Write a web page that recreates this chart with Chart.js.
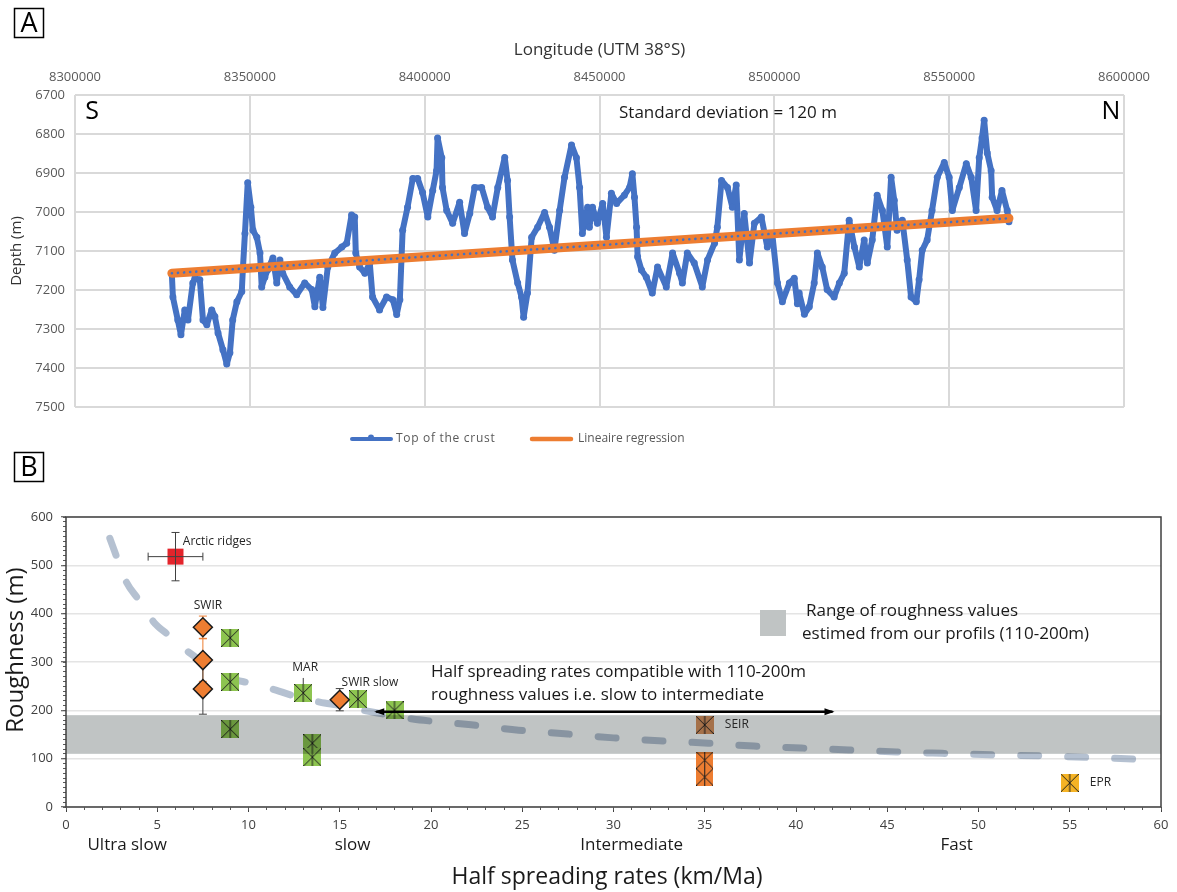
<!DOCTYPE html>
<html>
<head>
<meta charset="utf-8">
<script src="https://cdn.jsdelivr.net/npm/chart.js@4.4.1/dist/chart.umd.min.js"></script>
<style>
  html, body { margin: 0; padding: 0; background: #fff; }
  body { width: 1177px; height: 892px; position: relative; overflow: hidden; }
  canvas { position: absolute; left: 0; }
  #profileChart { top: 0; width: 1177px; height: 460px; }
  #roughnessChart { top: 440px; width: 1177px; height: 452px; }
</style>
</head>
<body>
<canvas id="profileChart" width="1177" height="460"></canvas>
<canvas id="roughnessChart" width="1177" height="452"></canvas>
<script>
// ---------- Panel A data: crust depth along the profile ----------
const profileEasting = [
  8327700, 8328000, 8329400, 8330300, 8331400, 8332300, 8333700, 8334300, 8335700, 8336600,
  8337700, 8339100, 8340000, 8340900, 8342300, 8343400, 8344300, 8345100, 8346300, 8347700,
  8348000, 8348600, 8349400, 8350300, 8350900, 8352000, 8352900, 8353400, 8354300, 8355100,
  8356600, 8357700, 8358600, 8359400, 8361400, 8363400, 8365700, 8367700, 8368600, 8370000,
  8370900, 8372300, 8374300, 8376300, 8377700, 8379100, 8380000, 8380300, 8381400, 8382900,
  8384300, 8385100, 8387100, 8389100, 8390900, 8392000, 8392900, 8393700, 8395100, 8396600,
  8398000, 8399400, 8400900, 8402300, 8403400, 8403700, 8404900, 8405100, 8406300, 8408000,
  8410000, 8411400, 8412900, 8414300, 8416300, 8418000, 8419400, 8420900, 8422900, 8423700,
  8424300, 8425100, 8426600, 8427700, 8428300, 8429400, 8430600, 8432300, 8434300, 8435700,
  8437100, 8438600, 8440000, 8442000, 8443400, 8444300, 8445100, 8446600, 8447100, 8448000,
  8449400, 8450900, 8452000, 8453400, 8454900, 8457100, 8458600, 8459400, 8460000, 8460600,
  8460900, 8462000, 8463400, 8465100, 8466600, 8469100, 8470900, 8472900, 8473700, 8475100,
  8477100, 8479400, 8480900, 8482900, 8483700, 8484900, 8486600, 8488000, 8489100, 8490000,
  8491400, 8492900, 8494300, 8496300, 8498000, 8499400, 8500900, 8502300, 8504300, 8505700,
  8506600, 8507100, 8508600, 8510000, 8511400, 8512300, 8513700, 8515100, 8517100, 8518600,
  8520000, 8521400, 8522900, 8524300, 8525700, 8526600, 8528000, 8529400, 8530900, 8532300,
  8533400, 8534300, 8535100, 8536600, 8538000, 8539100, 8540600, 8541400, 8542300, 8543700,
  8545100, 8546600, 8548600, 8550000, 8550900, 8552900, 8554900, 8556300, 8557700, 8558600,
  8559400, 8560000, 8560900, 8562000, 8562300, 8563700, 8565100, 8566600, 8567100
];
const profileDepth = [
  7160, 7218, 7277, 7315, 7251, 7277, 7182, 7170, 7174, 7277,
  7289, 7251, 7268, 7310, 7353, 7390, 7361, 7277, 7230, 7204,
  7148, 7055, 6925, 6988, 7047, 7065, 7105, 7192, 7167, 7148,
  7118, 7182, 7123, 7157, 7192, 7212, 7182, 7199, 7243, 7167,
  7245, 7141, 7105, 7090, 7080, 7008, 7013, 7105, 7141, 7157,
  7131, 7218, 7251, 7218, 7225, 7263, 7225, 7047, 6988, 6914,
  6914, 6950, 7013, 6945, 6894, 6810, 6861, 6937, 6996, 7029,
  6975, 7055, 7004, 6937, 6937, 6988, 7013, 6937, 6860, 6919,
  7013, 7123, 7182, 7218, 7270, 7208, 7065, 7039, 7001, 7039,
  7098, 6996, 6911, 6828, 6861, 6937, 7055, 6988, 7039, 6988,
  7029, 6978, 7065, 6952, 6978, 6957, 6937, 6902, 6962, 7039,
  7115, 7149, 7167, 7208, 7141, 7192, 7105, 7157, 7182, 7105,
  7131, 7192, 7123, 7080, 7039, 6919, 6937, 6988, 6931, 7123,
  7004, 7131, 7029, 7013, 7090, 7055, 7182, 7230, 7182, 7170,
  7235, 7208, 7262, 7243, 7182, 7105, 7141, 7199, 7218, 7182,
  7157, 7021, 7090, 7141, 7072, 7131, 7072, 6957, 6996, 7090,
  6911, 6970, 7047, 7021, 7123, 7218, 7230, 7174, 7098, 7072,
  6996, 6911, 6873, 6911, 6996, 6937, 6876, 6911, 6996, 6861,
  6810, 6765, 6849, 6894, 6962, 6996, 6945, 6996, 7025
];
const regressionEasting = [8327700, 8567100];
const regressionDepth = [7157, 7016];
const eastingTicks = [8300000, 8600000, 50000];   // min, max, step
const depthTicks = [6700, 7500, 100];

// ---------- Panel B data: roughness vs half spreading rate ----------
const trendRate = [2.4, 2.8, 3.3, 4.0, 4.8, 5.6, 6.7, 7.5, 9.0, 10.1, 11.5, 12.3, 13.9, 15.0, 16.3, 17.0,
  19.0, 20.2, 22.2, 24.8, 27.5, 30.0, 32.5, 35.2, 37.7, 40.3, 42.9, 45.5, 48.0, 50.7, 53.3, 55.8, 58.5, 59.0];
const trendRough = [556, 515, 466, 428, 383, 356, 321, 300, 267, 256, 242, 232, 217, 210, 200, 195,
  182, 177, 170, 159, 151, 143, 137, 132, 126, 122, 118, 114, 111, 108, 106, 103, 99, 98];
const bandRough = [110, 190];

const arcticRate = [6], arcticRough = [518];
const arcticRateErr = [1.5], arcticRoughErr = [50];
const swirRate = [7.5, 7.5, 7.5], swirRough = [372, 304, 244];
const swirErr = [23, 44, 52];
const swirSlowRate = [15], swirSlowRough = [222], swirSlowErr = [23];
const marRate = [13], marRough = [236], marErrUp = [31];
const greenRate = [9, 9, 9, 13.5, 13.5, 16, 18];
const greenRough = [350, 259, 161, 132, 103, 223, 200];
const seirRate = [35], seirRough = [170];
const orangeRate = [35, 35], orangeRough = [97, 62];
const eprRate = [55], eprRough = [50];
const compatibleRange = [17, 42], compatibleRough = 197;

const ridgeLabels = ['Arctic ridges', 'SWIR', 'MAR', 'SWIR slow', 'SEIR', 'EPR'];
const ridgeLabelRate = [6.4, 7.0, 12.4, 15.1, 36.1, 56.1];
const ridgeLabelRough = [550, 416, 288, 257, 170, 50];
const speedClasses = ['Ultra slow', 'slow', 'Intermediate', 'Fast'];
const speedClassRate = [3.35, 15.7, 31.0, 48.8];

Chart.defaults.font.family = '"Open Sans", sans-serif';

const toPoints = (xs, ys) => xs.map((x, i) => ({ x: x, y: ys[i] }));

// Excel style "star" marker: filled square with an X and a vertical stroke
function starMarker(fill, size) {
    const c = document.createElement('canvas');
    c.width = size;
    c.height = size;
    const g = c.getContext('2d');
    g.fillStyle = fill;
    g.fillRect(0, 0, size, size);
    g.strokeStyle = '#1e1e1e';
    g.lineWidth = 1;
    g.beginPath();
    g.moveTo(0, 0); g.lineTo(size, size);
    g.moveTo(size, 0); g.lineTo(0, size);
    g.moveTo(size / 2, 0); g.lineTo(size / 2, size);
    g.stroke();
    return c;
}

// ---------- Panel A ----------
const profileDecor = {
    id: 'profileDecor',
    afterDraw(chart) {
        const ctx = chart.ctx;
        ctx.save();
        ctx.strokeStyle = '#000';
        ctx.lineWidth = 1.5;
        ctx.strokeRect(14.5, 8.5, 29, 29);
        ctx.fillStyle = '#000';
        ctx.textAlign = 'center';
        ctx.textBaseline = 'middle';
        ctx.font = '27px "Open Sans"';
        ctx.fillText('A', 29, 24);

        ctx.font = '25px "Open Sans"';
        ctx.fillText('S', 92, 112);
        ctx.fillText('N', 1111, 112);
        ctx.font = '17px "Open Sans"';
        ctx.textAlign = 'left';
        ctx.fillStyle = '#1a1a1a';
        ctx.fillText('Standard deviation = 120 m', 619, 113);

        // legend
        ctx.lineCap = 'round';
        ctx.strokeStyle = '#4472c4';
        ctx.lineWidth = 4;
        ctx.beginPath(); ctx.moveTo(352, 439); ctx.lineTo(391, 439); ctx.stroke();
        ctx.fillStyle = '#4472c4';
        ctx.beginPath(); ctx.arc(371, 437.5, 3, 0, Math.PI * 2); ctx.fill();
        ctx.strokeStyle = '#ed7d31';
        ctx.lineWidth = 4.5;
        ctx.beginPath(); ctx.moveTo(532, 439); ctx.lineTo(571, 439); ctx.stroke();
        ctx.fillStyle = '#595959';
        ctx.font = '12px "Open Sans"';
        ctx.letterSpacing = '0.7px';
        ctx.fillText('Top of the crust', 396, 439);
        ctx.letterSpacing = '0px';
        ctx.fillText('Lineaire regression', 578, 439);
        ctx.restore();
    }
};

new Chart(document.getElementById('profileChart'), {
    type: 'scatter',
    data: {
        datasets: [
            {
                label: 'Top of the crust',
                data: toPoints(profileEasting, profileDepth),
                showLine: true,
                borderColor: '#4472c4',
                borderWidth: 6,
                borderJoinStyle: 'round',
                borderCapStyle: 'round',
                backgroundColor: '#4472c4',
                pointRadius: 3.5,
                pointBorderWidth: 0,
                order: 3
            },
            {
                label: 'Lineaire regression',
                data: toPoints(regressionEasting, regressionDepth),
                showLine: true,
                borderColor: '#ed7d31',
                borderWidth: 9,
                borderCapStyle: 'round',
                pointRadius: 0,
                order: 2
            },
            {
                label: 'Linear trend',
                data: toPoints(regressionEasting, regressionDepth),
                showLine: true,
                borderColor: '#4472c4',
                borderWidth: 2.6,
                borderDash: [0.1, 6],
                borderCapStyle: 'round',
                pointRadius: 0,
                order: 1
            }
        ]
    },
    options: {
        responsive: false,
        animation: false,
        events: [],
        layout: { padding: { left: 0, right: 53, top: 0, bottom: 53 } },
        plugins: { legend: { display: false }, tooltip: { enabled: false } },
        scales: {
            x: {
                type: 'linear',
                position: 'top',
                min: eastingTicks[0],
                max: eastingTicks[1],
                afterFit: (scale) => { scale.height = 95; },
                border: { display: false },
                grid: { color: '#d9d9d9', lineWidth: 2, drawTicks: false },
                ticks: {
                    stepSize: eastingTicks[2],
                    autoSkip: false,
                    maxRotation: 0,
                    padding: 10,
                    color: '#595959',
                    font: { size: 13 },
                    callback: (v) => String(v)
                },
                title: {
                    display: true,
                    text: 'Longitude (UTM 38°S)',
                    color: '#333',
                    font: { size: 17 },
                    padding: { top: 40, bottom: 0 }
                }
            },
            y: {
                type: 'linear',
                reverse: true,
                min: depthTicks[0],
                max: depthTicks[1],
                afterFit: (scale) => { scale.width = 75; },
                border: { display: false },
                grid: { color: '#d9d9d9', lineWidth: 2, drawTicks: false },
                ticks: {
                    stepSize: depthTicks[2],
                    padding: 10,
                    color: '#595959',
                    font: { size: 13 },
                    callback: (v) => String(v)
                },
                title: {
                    display: true,
                    text: 'Depth (m)',
                    color: '#333',
                    font: { size: 15 },
                    padding: { top: 8, bottom: 0 }
                }
            }
        }
    },
    plugins: [profileDecor]
});

// ---------- Panel B ----------
function drawErrorBars(chart, index) {
    const ds = chart.data.datasets[index];
    if (!ds.errUp) return;
    const { ctx, scales: { x, y } } = chart;
    ctx.save();
    ctx.lineWidth = 1;
    ds.data.forEach((p, i) => {
        ctx.strokeStyle = ds.errColor[i];
        const px = x.getPixelForValue(p.x);
        const py = y.getPixelForValue(p.y);
        const top = y.getPixelForValue(p.y + ds.errUp[i]);
        const bot = y.getPixelForValue(p.y - ds.errDown[i]);
        const cap = ds.errCap;
        ctx.beginPath();
        ctx.moveTo(px, top); ctx.lineTo(px, bot);
        if (cap) {
            if (ds.errUp[i]) { ctx.moveTo(px - cap, top); ctx.lineTo(px + cap, top); }
            if (ds.errDown[i]) { ctx.moveTo(px - cap, bot); ctx.lineTo(px + cap, bot); }
        }
        if (ds.errX) {
            const left = x.getPixelForValue(p.x - ds.errX[i]);
            const right = x.getPixelForValue(p.x + ds.errX[i]);
            ctx.moveTo(left, py); ctx.lineTo(right, py);
            ctx.moveTo(left, py - cap); ctx.lineTo(left, py + cap);
            ctx.moveTo(right, py - cap); ctx.lineTo(right, py + cap);
        }
        ctx.stroke();
    });
    ctx.restore();
}

const roughnessDecor = {
    id: 'roughnessDecor',
    beforeDatasetDraw(chart, args) {
        const ds = chart.data.datasets[args.index];
        if (!ds.errFront) drawErrorBars(chart, args.index);
    },
    afterDatasetDraw(chart, args) {
        const ds = chart.data.datasets[args.index];
        if (ds.errFront) drawErrorBars(chart, args.index);
        if (ds.doubleArrow) {
            const pts = args.meta.data;
            const ctx = chart.ctx;
            ctx.save();
            ctx.fillStyle = ds.borderColor;
            [[pts[0], -1], [pts[pts.length - 1], 1]].forEach(([p, dir]) => {
                ctx.beginPath();
                ctx.moveTo(p.x + dir * 2, p.y);
                ctx.lineTo(p.x - dir * 8, p.y - 3.5);
                ctx.lineTo(p.x - dir * 8, p.y + 3.5);
                ctx.closePath();
                ctx.fill();
            });
            ctx.restore();
        }
    },
    afterDatasetsDraw(chart) {
        // shaded range of roughness estimated from the profiles
        const { ctx, chartArea, scales: { y } } = chart;
        ctx.save();
        ctx.globalCompositeOperation = 'multiply';
        ctx.fillStyle = '#c0c4c4';
        const top = y.getPixelForValue(bandRough[1]);
        const bottom = y.getPixelForValue(bandRough[0]);
        ctx.fillRect(chartArea.left, top, chartArea.right - chartArea.left, bottom - top);
        ctx.restore();
    },
    afterDraw(chart) {
        const { ctx, chartArea, scales: { x, y } } = chart;
        ctx.save();
        ctx.strokeStyle = '#3f3f3f';
        ctx.lineWidth = 1.5;
        ctx.strokeRect(chartArea.left, chartArea.top, chartArea.right - chartArea.left, chartArea.bottom - chartArea.top);

        ctx.strokeStyle = '#000';
        ctx.strokeRect(14.5, 12.5, 29, 29);
        ctx.fillStyle = '#000';
        ctx.textAlign = 'center';
        ctx.textBaseline = 'middle';
        ctx.font = '27px "Open Sans"';
        ctx.fillText('B', 29, 28);

        // ridge names
        ctx.fillStyle = '#262626';
        ctx.textAlign = 'left';
        ctx.font = '12px "Open Sans"';
        ridgeLabels.forEach((t, i) => {
            ctx.fillText(t, x.getPixelForValue(ridgeLabelRate[i]), y.getPixelForValue(ridgeLabelRough[i]));
        });

        // annotations
        ctx.fillStyle = '#1a1a1a';
        ctx.font = '17px "Open Sans"';
        ctx.fillText('Half spreading rates compatible with 110-200m', 431, 232);
        ctx.fillText('roughness values i.e. slow to intermediate', 431, 255);
        ctx.fillText('Range of roughness values', 806, 171);
        ctx.fillText('estimed from our profils (110-200m)', 802, 194);
        ctx.fillStyle = '#c0c4c4';
        ctx.fillRect(760, 170, 26, 26);

        // spreading classes under the axis
        ctx.fillStyle = '#1a1a1a';
        ctx.textAlign = 'center';
        ctx.font = '17px "Open Sans"';
        speedClasses.forEach((t, i) => {
            ctx.fillText(t, x.getPixelForValue(speedClassRate[i]), 405);
        });
        ctx.font = '23px "Open Sans"';
        ctx.fillText('Half spreading rates (km/Ma)', 607, 437);

        ctx.translate(16, 210);
        ctx.rotate(-Math.PI / 2);
        ctx.font = '24px "Open Sans"';
        ctx.fillText('Roughness (m)', 0, 0);
        ctx.restore();
    }
};

const greenStar = starMarker('#8dc450', 18);
const seirStar = starMarker('#dc9360', 18);
const orangeStar = starMarker('#ed7d31', 17);
const eprStar = starMarker('#f5b325', 18);

new Chart(document.getElementById('roughnessChart'), {
    type: 'scatter',
    data: {
        datasets: [
            {
                label: 'Trend',
                data: toPoints(trendRate, trendRough),
                showLine: true,
                cubicInterpolationMode: 'monotone',
                borderColor: 'rgba(70, 100, 140, 0.4)',
                borderWidth: 7,
                borderDash: [18, 29],
                borderCapStyle: 'round',
                pointRadius: 0,
                order: 10
            },
            {
                label: 'Arctic ridges',
                data: toPoints(arcticRate, arcticRough),
                pointStyle: 'rect',
                pointRadius: 11.3,
                backgroundColor: '#e3242b',
                borderWidth: 0,
                errUp: arcticRoughErr, errDown: arcticRoughErr, errX: arcticRateErr,
                errColor: ['#404040'], errCap: 4, errFront: true,
                order: 5
            },
            {
                label: 'MAR',
                data: toPoints(marRate, marRough),
                pointStyle: greenStar,
                pointRadius: 9,
                errUp: marErrUp, errDown: [0], errColor: ['#404040'], errCap: 0, errFront: false,
                order: 5
            },
            {
                label: 'Green',
                data: toPoints(greenRate, greenRough),
                pointStyle: greenStar,
                pointRadius: 9,
                order: 5
            },
            {
                label: 'SWIR',
                data: toPoints(swirRate, swirRough),
                pointStyle: 'rectRot',
                pointRadius: 9.5,
                backgroundColor: '#ed7d31',
                borderColor: '#1a1a1a',
                borderWidth: 1.5,
                errUp: swirErr, errDown: swirErr,
                errColor: ['#ed7d31', '#ed7d31', '#404040'], errCap: 4, errFront: false,
                order: 4
            },
            {
                label: 'SWIR slow',
                data: toPoints(swirSlowRate, swirSlowRough),
                pointStyle: 'rectRot',
                pointRadius: 9.5,
                backgroundColor: '#ed7d31',
                borderColor: '#1a1a1a',
                borderWidth: 1.5,
                errUp: swirSlowErr, errDown: swirSlowErr,
                errColor: ['#404040'], errCap: 4, errFront: false,
                order: 4
            },
            {
                label: 'SEIR',
                data: toPoints(seirRate, seirRough),
                pointStyle: seirStar,
                pointRadius: 9,
                order: 5
            },
            {
                label: 'Orange',
                data: toPoints(orangeRate, orangeRough),
                pointStyle: orangeStar,
                pointRadius: 9,
                order: 5
            },
            {
                label: 'EPR',
                data: toPoints(eprRate, eprRough),
                pointStyle: eprStar,
                pointRadius: 9,
                order: 5
            },
            {
                label: 'Compatible rates',
                data: toPoints(compatibleRange, [compatibleRough, compatibleRough]),
                showLine: true,
                borderColor: '#000',
                borderWidth: 2.5,
                pointRadius: 0,
                doubleArrow: true,
                order: 1
            }
        ]
    },
    options: {
        responsive: false,
        animation: false,
        events: [],
        layout: { padding: { left: 0, right: 16, top: 77, bottom: 0 } },
        plugins: { legend: { display: false }, tooltip: { enabled: false } },
        scales: {
            x: {
                type: 'linear',
                position: 'bottom',
                weight: 1,
                min: 0,
                max: 60,
                afterFit: (scale) => { scale.height = 85; },
                border: { display: false },
                grid: { drawOnChartArea: false, tickLength: 5, tickColor: '#404040', lineWidth: 1 },
                ticks: {
                    stepSize: 5,
                    autoSkip: false,
                    maxRotation: 0,
                    padding: 5,
                    color: '#404040',
                    font: { size: 13 }
                }
            },
            xMinor: {
                type: 'linear',
                position: 'bottom',
                weight: 0,
                min: 0,
                max: 60,
                afterFit: (scale) => { scale.height = 0; },
                border: { display: false },
                grid: { drawOnChartArea: false, tickLength: 3, tickColor: '#595959', lineWidth: 1 },
                ticks: { stepSize: 1, autoSkip: false, display: false }
            },
            y: {
                type: 'linear',
                position: 'left',
                weight: 1,
                min: 0,
                max: 600,
                afterFit: (scale) => { scale.width = 66; },
                border: { display: false },
                grid: { color: '#e4e4e4', lineWidth: 1.5, tickLength: 5, tickColor: '#404040', tickWidth: 1 },
                ticks: {
                    stepSize: 100,
                    padding: 8,
                    color: '#404040',
                    font: { size: 13 }
                }
            },
            yMinor: {
                type: 'linear',
                position: 'left',
                weight: 0,
                min: 0,
                max: 600,
                afterFit: (scale) => { scale.width = 0; },
                border: { display: false },
                grid: { drawOnChartArea: false, tickLength: 3, tickColor: '#595959', lineWidth: 1 },
                ticks: { stepSize: 10, autoSkip: false, display: false }
            }
        }
    },
    plugins: [roughnessDecor]
});
</script>
</body>
</html>
